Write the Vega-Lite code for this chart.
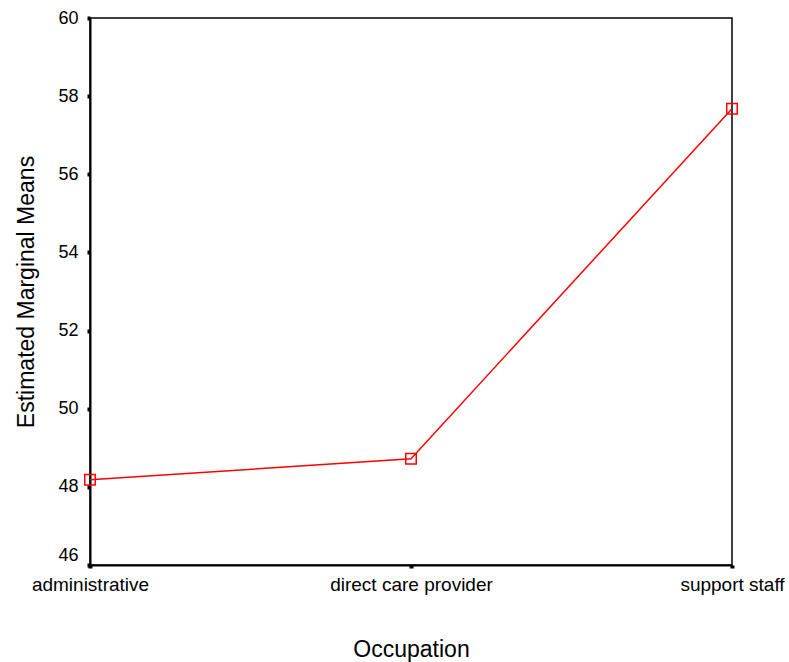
{
  "$schema": "https://vega.github.io/schema/vega-lite/v6.json",
  "autosize": "none",
  "width": 642,
  "height": 547,
  "padding": {"left": 90, "top": 18, "right": 57, "bottom": 97},
  "background": "white",
  "config": {
    "font": "Liberation Sans",
    "view": {"stroke": "black", "strokeWidth": 1.5}
  },
  "data": {
    "values": [
      {"Occupation": "administrative", "Mean": 48.18},
      {"Occupation": "direct care provider", "Mean": 48.72},
      {"Occupation": "support staff", "Mean": 57.68}
    ]
  },
  "encoding": {
    "x": {
      "field": "Occupation",
      "type": "ordinal",
      "sort": null,
      "scale": {"type": "point", "padding": 0},
      "axis": {
        "title": "Occupation",
        "titleFont": "Liberation Sans",
        "titleFontSize": 23,
        "titleFontWeight": "normal",
        "titleColor": "black",
        "titlePadding": 44,
        "labelAngle": 0,
        "labelFontSize": 19,
        "labelColor": "black",
        "labelPadding": 7,
        "domainColor": "black",
        "domainWidth": 2,
        "tickColor": "black",
        "tickWidth": 4,
        "tickSize": 3,
        "grid": false
      }
    },
    "y": {
      "field": "Mean",
      "type": "quantitative",
      "scale": {"domain": [46, 60], "nice": false, "zero": false},
      "axis": {
        "title": "Estimated Marginal Means",
        "titleFont": "Liberation Sans",
        "titleFontSize": 23,
        "titleFontWeight": "normal",
        "titleColor": "black",
        "titlePadding": 19,
        "values": [46, 48, 50, 52, 54, 56, 58, 60],
        "labelFontSize": 18,
        "labelColor": "black",
        "labelPadding": 9,
        "labelOffset": {"condition": {"test": "datum.value == 46", "value": -10}, "value": 0},
        "domainColor": "black",
        "domainWidth": 2,
        "tickColor": "black",
        "tickWidth": 4,
        "tickSize": 3,
        "grid": false
      }
    }
  },
  "layer": [
    {"mark": {"type": "line", "color": "#ff0000", "strokeWidth": 1.5}},
    {"mark": {"type": "point", "shape": "square", "filled": false, "color": "#ff0000", "size": 110, "strokeWidth": 1.5, "opacity": 1}}
  ]
}
